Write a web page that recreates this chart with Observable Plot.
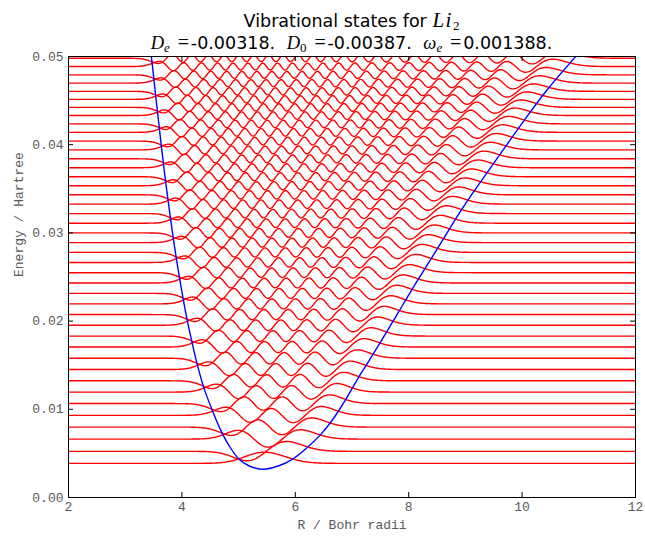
<!DOCTYPE html>
<html><head><meta charset="utf-8">
<script src="https://cdn.jsdelivr.net/npm/d3@7"></script>
<script src="https://cdn.jsdelivr.net/npm/@observablehq/plot@0.6"></script>
<style>
body{margin:0;background:#fff}
#title{position:relative;width:645px;height:50px;font-family:"DejaVu Sans",sans-serif;font-size:17.5px;color:#000}
#title .ln{position:absolute;left:68px;width:567px;text-align:center;line-height:20px;white-space:nowrap}
.m{font-family:"Liberation Serif","DejaVu Serif",serif;font-style:italic;font-size:18.5px}
.li{font-size:21px;letter-spacing:1.5px}
.u{font-family:"Liberation Serif","DejaVu Serif",serif;font-style:normal}
.s{font-size:13px;position:relative;top:3px;line-height:13px}
.eq{font-family:"Liberation Serif","DejaVu Serif",serif;font-size:20px;display:inline-block;width:15px;text-align:center;margin-left:6px}
.gap{display:inline-block;width:6px}
</style></head><body>
<div id="title">
  <div class="ln" style="top:9.5px">Vibrational states for <span class="m li">Li</span><span class="u s">2</span></div>
  <div class="ln" style="top:32px"><span class="m">D</span><span class="m s">e</span><span class="eq">=</span>-0.00318. <span class="gap"></span><span class="m">D</span><span class="u s">0</span><span class="eq">=</span>-0.00387. <span class="gap"></span><span class="m">ω</span><span class="m s">e</span><span class="eq">=</span>0.001388.</div>
</div>
<div id="chart"></div>
<script>
// Potential energy curve (R in bohr, E in hartree)
const potR = [3.46, 3.53, 3.61, 3.69, 3.80, 3.89, 3.99, 4.06, 4.15, 4.27, 4.40, 4.56, 4.68, 4.83, 5.00, 5.18, 5.44, 5.71, 5.94, 6.18, 6.47, 6.71, 6.88, 7.15, 7.26, 7.50, 7.80, 8.06, 8.38, 8.62, 8.91, 9.15, 9.38, 9.71, 10.03, 10.44, 10.96];
const potE = [0.0501, 0.0460, 0.0414, 0.0370, 0.0316, 0.0276, 0.0237, 0.0212, 0.0184, 0.0151, 0.0122, 0.0095, 0.0077, 0.0059, 0.0044, 0.0036, 0.0032, 0.0036, 0.0043, 0.0055, 0.0073, 0.0093, 0.0110, 0.0140, 0.0151, 0.0176, 0.0208, 0.0236, 0.0269, 0.0294, 0.0324, 0.0347, 0.0368, 0.0398, 0.0427, 0.0462, 0.0501];
// Vibrational level energies (v = 0, 1, 2, ...)
const levelE = [0.00387, 0.00523, 0.00662, 0.00798, 0.00931, 0.01065, 0.01195, 0.01323, 0.01451, 0.01579,
  0.01706, 0.01830, 0.01953, 0.02074, 0.02195, 0.02314, 0.02432, 0.02549, 0.02665, 0.02779,
  0.02890, 0.03000, 0.03110, 0.03219, 0.03326, 0.03432, 0.03535, 0.03637, 0.03739, 0.03840,
  0.03941, 0.04041, 0.04140, 0.04236, 0.04331, 0.04423, 0.04514, 0.04605, 0.04698, 0.04792,
  0.04886, 0.04980];
const xTicks = [2, 4, 6, 8, 10, 12];
const yTicks = [0, 0.01, 0.02, 0.03, 0.04, 0.05];
const xLabel = "R / Bohr radii";
const yLabel = "Energy / Hartree";
const reducedMass = 6394.7;   // 7Li2 reduced mass in electron masses
const psiScale = 0.001;       // wavefunction drawing scale

// monotone cubic (Fritsch–Carlson) through the read potential points
function makeInterp(xs, ys) {
  const n = xs.length, dx = [], sl = [], t = new Array(n);
  for (let i = 0; i < n - 1; i++) { dx[i] = xs[i+1]-xs[i]; sl[i] = (ys[i+1]-ys[i])/dx[i]; }
  t[0] = sl[0]; t[n-1] = sl[n-2];
  for (let i = 1; i < n - 1; i++) {
    if (sl[i-1]*sl[i] <= 0) t[i] = 0;
    else t[i] = 3*(dx[i-1]+dx[i]) / ((2*dx[i]+dx[i-1])/sl[i-1] + (dx[i]+2*dx[i-1])/sl[i]);
  }
  return x => {
    if (x <= xs[0]) return ys[0] + sl[0]*(x-xs[0]);
    if (x >= xs[n-1]) return ys[n-1] + sl[n-2]*(x-xs[n-1]);
    let i = 0; while (x > xs[i+1]) i++;
    const hh = dx[i], s = (x-xs[i])/hh, s2 = s*s, s3 = s2*s;
    return (2*s3-3*s2+1)*ys[i] + (s3-2*s2+s)*hh*t[i] + (-2*s3+3*s2)*ys[i+1] + (s3-s2)*hh*t[i+1];
  };
}
const Vf = makeInterp(potR, potE);

// finite-difference Schrödinger solve on the potential
const N = 2001, R0 = 2, R1 = 12, h = (R1-R0)/(N-1);
const Rg = new Float64Array(N), Vg = new Float64Array(N), d = new Float64Array(N);
const off = -1/(2*reducedMass*h*h);
let Vmax = -Infinity, Vmin = Infinity;
for (let i = 0; i < N; i++) {
  Rg[i] = R0 + i*h; Vg[i] = Vf(Rg[i]);
  d[i] = 1/(reducedMass*h*h) + Vg[i];
  Vmax = Math.max(Vmax, Vg[i]); Vmin = Math.min(Vmin, Vg[i]);
}
function countBelow(x) {
  let c = 0, q = 1;
  for (let i = 0; i < N; i++) {
    q = d[i] - x - (i ? off*off/q : 0);
    if (q === 0) q = 1e-300;
    if (q < 0) c++;
  }
  return c;
}
function eigval(k) {
  let lo = Vmin, hi = Vmax;
  for (let it = 0; it < 70; it++) {
    const mid = (lo+hi)/2;
    if (countBelow(mid) > k) hi = mid; else lo = mid;
  }
  return (lo+hi)/2;
}
function eigvec(lam) {
  let m = N-2; while (m > 1 && Vg[m] > lam) m--;
  const f = new Float64Array(N);
  f[0] = 1e-12;
  f[1] = -((d[0]-lam)*f[0])/off;
  for (let i = 1; i < m; i++) f[i+1] = -((d[i]-lam)*f[i] + off*f[i-1])/off;
  const b = new Float64Array(N);
  b[N-1] = 1e-12;
  b[N-2] = -((d[N-1]-lam)*b[N-1])/off;
  for (let i = N-2; i > m; i--) b[i-1] = -((d[i]-lam)*b[i] + off*b[i+1])/off;
  const sc = f[m]/b[m];
  for (let i = m+1; i < N; i++) f[i] = b[i]*sc;
  let sgn = f[m] < 0 ? -1 : 1, norm = 0;
  for (let i = 0; i < N; i++) norm += f[i]*f[i]*h;
  const k = sgn/Math.sqrt(norm);
  for (let i = 0; i < N; i++) f[i] *= k;
  return f;
}
const wave = [];
levelE.forEach((E, v) => {
  const psi = eigvec(eigval(v));
  for (let i = 0; i < N; i += 2) wave.push({v, R: Rg[i], E: E + psiScale*psi[i]});
});
const pot = potR.map((R, i) => ({R, E: potE[i]}));

const W = 645, H = 487, mL = 68, mR = 10, mT = 6, mB = 40;
const pw = W-mL-mR, ph = H-mT-mB, tl = 5;
const chart = Plot.plot({
  width: W, height: H, marginTop: mT, marginBottom: mB, marginLeft: mL, marginRight: mR,
  x: {domain: [2, 12], label: null},
  y: {domain: [0, 0.05], label: null},
  style: {fontFamily: "'Liberation Mono', monospace", fontSize: "13px", color: "#595959", background: "#fff", overflow: "visible"},
  marks: [
    Plot.line(wave, {x: "R", y: "E", z: "v", stroke: "#ff0000", strokeWidth: 1.4, clip: true}),
    Plot.line(pot, {x: "R", y: "E", stroke: "#0000ff", strokeWidth: 1.4, curve: "catmull-rom", clip: true}),
    Plot.frame({stroke: "#000", strokeWidth: 1}),
    Plot.tickY(yTicks, {y: d => d, insetRight: pw-tl, stroke: "#000"}),
    Plot.tickY(yTicks, {y: d => d, insetLeft: pw-tl, stroke: "#000"}),
    Plot.tickX(xTicks, {x: d => d, insetTop: ph-tl, stroke: "#000"}),
    Plot.tickX(xTicks, {x: d => d, insetBottom: ph-tl, stroke: "#000"}),
    Plot.axisX(xTicks, {tickSize: 0, tickPadding: 4, tickFormat: d => String(d), label: null}),
    Plot.axisY(yTicks, {tickSize: 0, tickPadding: 5, tickFormat: d3.format(".2f"), label: null}),
    Plot.text([yLabel], {frameAnchor: "left", rotate: -90, dx: -50, text: d => d, fill: "#595959"}),
    Plot.text([xLabel], {frameAnchor: "bottom", dy: 31, text: d => d, fill: "#595959"})
  ]
});
document.getElementById("chart").appendChild(chart);
</script>
</body></html>
